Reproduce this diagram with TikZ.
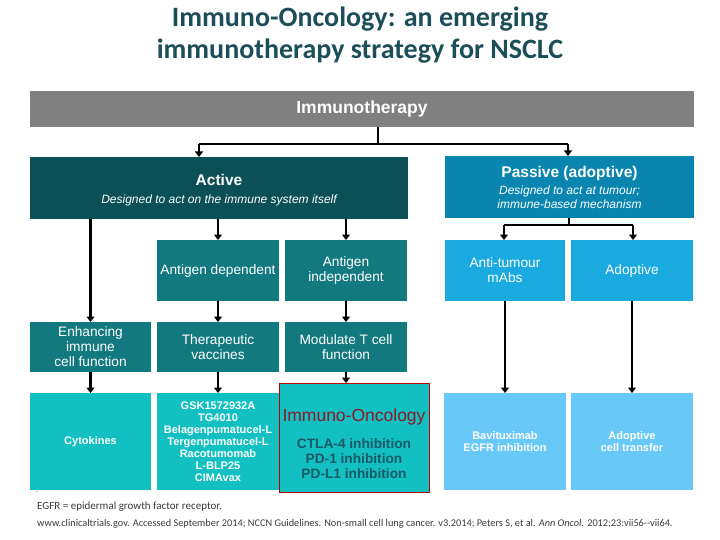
\documentclass[tikz,border=0pt]{standalone}
\usepackage{fontspec}
\setmainfont{Liberation Sans}
\newfontfamily\calib{Carlito}
\usetikzlibrary{arrows.meta}
\definecolor{titlec}{HTML}{1B4E58}
\definecolor{grayb}{HTML}{808080}
\definecolor{activec}{HTML}{0B4F57}
\definecolor{tealc}{HTML}{12797F}
\definecolor{cyanc}{HTML}{12BFC1}
\definecolor{passc}{HTML}{0A85B0}
\definecolor{bluec}{HTML}{1AAAE0}
\definecolor{lightb}{HTML}{68C9F8}
\definecolor{ioredc}{HTML}{8B1A28}
\definecolor{iotext}{HTML}{1A5A66}
\definecolor{footc}{HTML}{3A3A3A}
\tikzset{
  box/.style={rectangle, inner sep=0pt, outer sep=0pt, align=center, text=white},
  arr/.style={line width=2.9pt, -{Triangle[width=8pt,length=5.5pt]}},
  ln/.style={line width=2.9pt},
}
\begin{document}
\begin{tikzpicture}[x=1pt,y=-1pt]
\useasboundingbox (0,0) rectangle (720,540);
% title
\node[font=\calib\bfseries\fontsize{28}{32}\selectfont, text=titlec, align=center] (title) at (360,35)
  {Immuno-Oncology: an emerging\\immunotherapy strategy for NSCLC};
% top bar
\node[box, fill=grayb, minimum width=664pt, minimum height=36pt, font=\bfseries\fontsize{17.5}{18}\selectfont] (imm) at (362,109) {Immunotherapy};
% level 1
\node[box, fill=activec, minimum width=378pt, minimum height=62pt] (act) at (219,188) {};
\node[box, font=\itshape\fontsize{12}{18}\selectfont] (actt) at ([yshift=-2pt]act.center)
  {\upshape\bfseries\fontsize{15.5}{18}\selectfont Active\\\mdseries\itshape\fontsize{12}{18}\selectfont Designed to act on the immune system itself};
\node[box, fill=passc, minimum width=249pt, minimum height=62pt, font=\itshape\fontsize{12}{13.5}\selectfont] (pas) at (569.5,187)
  {\upshape\bfseries\fontsize{15.5}{13.5}\selectfont Passive (adoptive)\\[4pt]Designed to act at tumour;\\immune-based mechanism};
% level 2
\tikzset{r2/.style={box, minimum width=122pt, minimum height=61pt, font=\fontsize{13.7}{15}\selectfont}}
\node[r2, fill=tealc] (ad) at (218,270.5) {Antigen dependent};
\node[r2, fill=tealc] (ai) at (346,270.5) {Antigen\\independent};
\node[r2, fill=bluec, minimum width=120pt] (atm) at (505,270.5) {Anti-tumour\\mAbs};
\node[r2, fill=bluec] (adp) at (632,270.5) {Adoptive};
% level 3
\tikzset{r3/.style={box, fill=tealc, minimum width=122pt, minimum height=50pt, font=\fontsize{13.7}{15}\selectfont}}
\node[r3, minimum width=121pt] (enh) at (90.5,347) {Enhancing\\immune\\cell function};
\node[r3] (tv) at (218,347) {Therapeutic\\vaccines};
\node[r3] (mt) at (346,347) {Modulate T cell\\function};
% level 4
\tikzset{r4/.style={box, minimum width=122pt, minimum height=97pt, font=\bfseries\fontsize{11}{12}\selectfont}}
\node[r4, fill=cyanc, minimum width=121pt] (cyt) at (90.5,441.5) {Cytokines};
\node[r4, fill=cyanc] (gsk) at (218,441.5) {GSK1572932A\\TG4010\\Belagenpumatucel-L\\Tergenpumatucel-L\\Racotumomab\\L-BLP25\\CIMAvax};
\node[r4, fill=lightb] (bav) at (505,441.5) {Bavituximab\\EGFR inhibition};
\node[r4, fill=lightb] (act2) at (632,441.5) {Adoptive\\cell transfer};
\node[box, fill=cyanc, draw=red!75!black, line width=1pt, minimum width=150pt, minimum height=109pt] (io) at (354,437.5) {};
\node[box, text=iotext, font=\bfseries\fontsize{13.7}{15}\selectfont] (iot) at ([yshift=-6pt]io.center)
  {\color{ioredc}\mdseries\fontsize{17.5}{15}\selectfont Immuno-Oncology\\[12pt]CTLA-4 inhibition\\PD-1 inhibition\\PD-L1 inhibition};
% connectors
\coordinate (j1) at (378,144);
\draw[ln] (imm.south -| j1) -- (j1);
\draw[ln] (199,144) -- (568,144);
\draw[arr] (199,144) -- (act.north -| 199,0);
\draw[arr] (568,144) -- (pas.north -| 568,0);
\draw[arr] (act.south -| enh.north) -- (enh.north);
\draw[arr] (act.south -| ad.north) -- (ad.north);
\draw[arr] (act.south -| ai.north) -- (ai.north);
\coordinate (j2) at (569,225);
\draw[ln] (pas.south -| j2) -- (j2);
\draw[ln] (504,225) -- (633,225);
\draw[arr] (504,225) -- (atm.north -| 504,0);
\draw[arr] (633,225) -- (adp.north -| 633,0);
\draw[arr] (ad.south) -- (tv.north);
\draw[arr] (ai.south) -- (mt.north);
\draw[arr] (enh.south) -- (cyt.north);
\draw[arr] (tv.south) -- (gsk.north);
\draw[arr] (mt.south) -- (mt.south |- io.north);
\draw[arr] (atm.south) -- (bav.north);
\draw[arr] (adp.south) -- (act2.north);
% footnote
\node[font=\calib\fontsize{8}{9}\selectfont, text=footc, anchor=west, inner sep=0pt] (dot) at (36,492) {.};
\node[font=\calib\fontsize{11}{12}\selectfont, text=footc, anchor=west, inner sep=0pt] (f1) at (37,507) {EGFR = epidermal growth factor receptor.};
\node[font=\calib\fontsize{10.3}{11}\selectfont, text=footc, anchor=west, inner sep=0pt] (f2) at (37,524) {www.clinicaltrials.gov. Accessed September 2014; NCCN Guidelines. Non-small cell lung cancer. v3.2014; Peters S, et al. \textit{Ann Oncol.} 2012;23:vii56--vii64.};
\end{tikzpicture}
\end{document}
